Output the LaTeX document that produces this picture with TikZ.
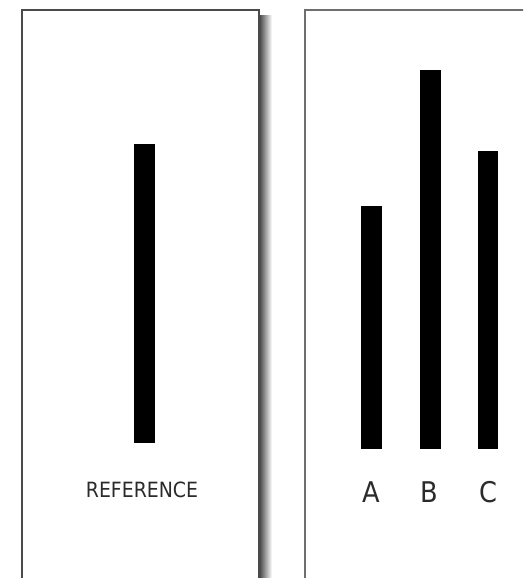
\documentclass[tikz,border=0pt]{standalone}
\usepackage{fontspec}
\setmainfont{DejaVu Sans Condensed}
\usepackage{tikz}
\usetikzlibrary{positioning}
\definecolor{frame}{HTML}{4A4A4A}
\definecolor{labelink}{HTML}{2B2B2B}
\tikzset{
  card/.style={draw=frame,line width=1.6pt,fill=white},
  bar/.style={rectangle,fill=black,inner sep=0pt,minimum width=21pt,anchor=south},
  barlabel/.style={inner sep=0pt,anchor=base,text=labelink}
}

\begin{document}
\begin{tikzpicture}[x=1pt,y=-1pt]
  \useasboundingbox (0,0) rectangle (523,578);
  \clip (0,0) rectangle (523,578);
  % cards
  \shade[left color=black!75,right color=white] (259,16) rectangle (272,590);
  \draw[card] (22,10) rectangle (259,600);
  \draw[card,draw=frame!80,line width=1.2pt] (305,10) rectangle (540,600);
  % reference line
  \node[bar,minimum height=299pt] (refbar) at (144.5,443) {};
  \node[barlabel,font=\fontsize{21}{23}\selectfont] (reflabel) at (142,497) {REFERENCE};
  % comparison lines
  \node[bar,minimum height=243pt] (barA) at (371.5,449) {};
  \node[bar,minimum height=379pt] (barB) at (430,449) {};
  \node[bar,minimum height=298pt,minimum width=20pt] (barC) at (488,449) {};
  \node[barlabel,font=\fontsize{28.5}{30}\selectfont] (labelA) at (371.5,502) {A};
  \node[barlabel,font=\fontsize{28.5}{30}\selectfont] (labelB) at (429,502) {B};
  \node[barlabel,font=\fontsize{28.5}{30}\selectfont] (labelC) at (488,502) {C};
\end{tikzpicture}
\end{document}
